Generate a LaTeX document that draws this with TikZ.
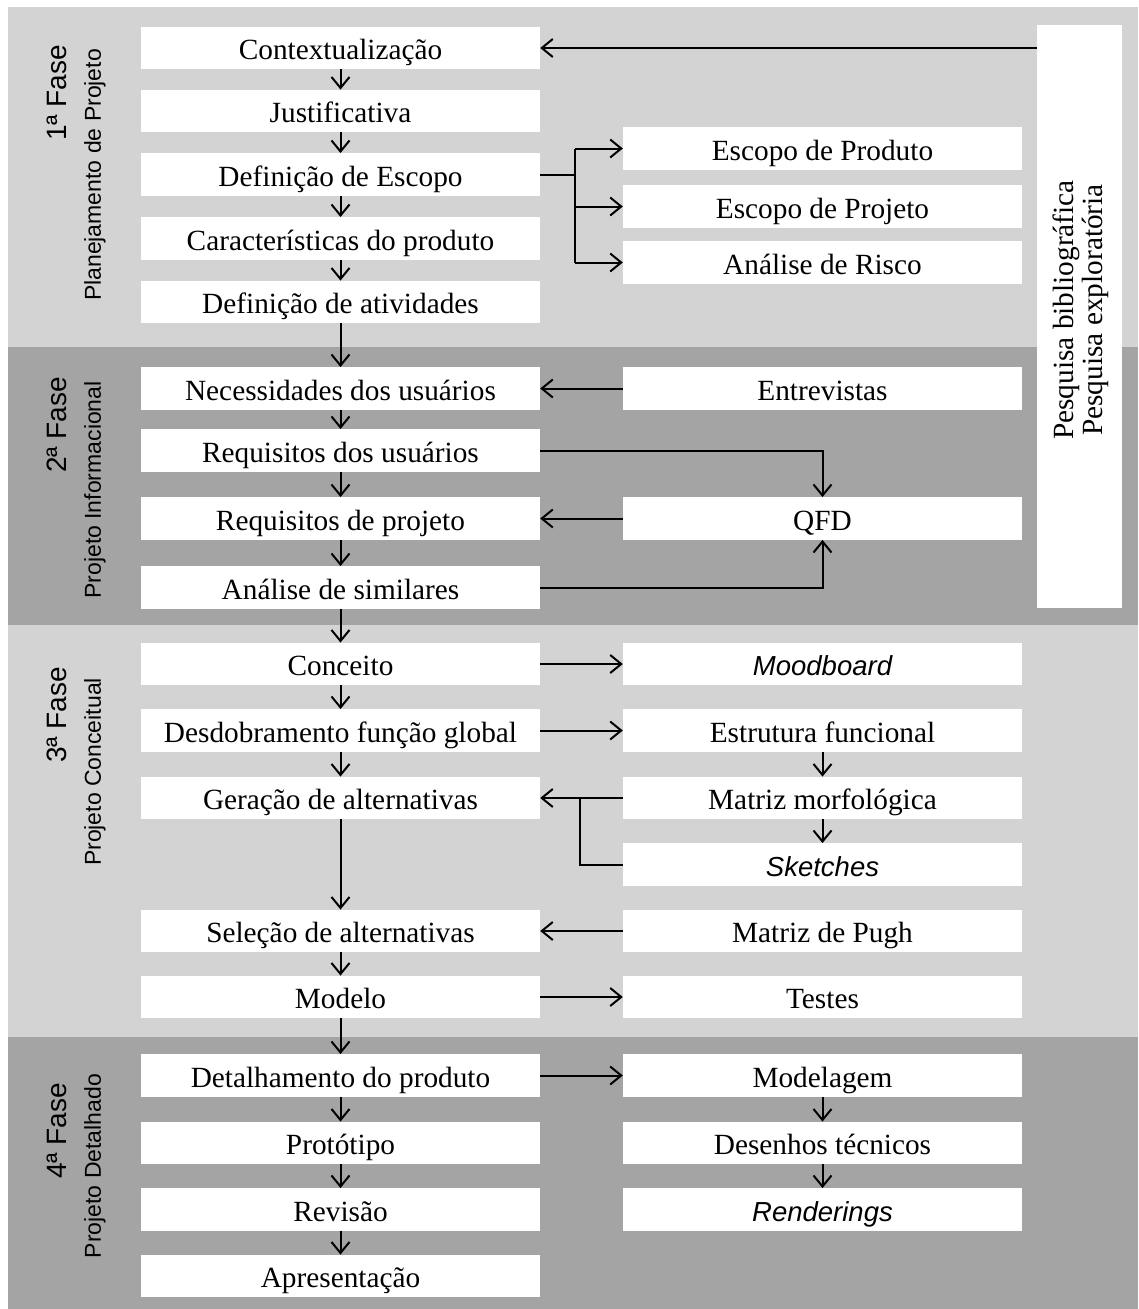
\documentclass[tikz,border=0pt]{standalone}
\usepackage{fontspec}
\setmainfont{Liberation Serif}
\newfontfamily\arialfont{Liberation Sans}
\usetikzlibrary{arrows.meta}

\definecolor{bandlight}{gray}{0.827}
\definecolor{banddark}{gray}{0.643}

\tikzset{
  every picture/.style={x=1pt,y=-1pt},
  txt/.style={font=\fontsize{29.3}{29}\selectfont},
  itxt/.style={font=\arialfont\itshape\fontsize{27.5}{30}\selectfont},
  stepbox/.style={fill=white, minimum width=399, minimum height=42.5, inner sep=0,
                  text height=23, text depth=0, txt},
  arr/.style={-{Straight Barb[length=11,width=18]}, line width=2},
  conn/.style={line width=2},
  phasenum/.style={rotate=90, font=\arialfont\fontsize{28}{32}\selectfont},
  phasename/.style={rotate=90, font=\arialfont\fontsize{23}{27}\selectfont},
}

\begin{document}
\begin{tikzpicture}
% page and phase bands
\fill[white] (0,0) rectangle (1138,1309);
\useasboundingbox (0,0) rectangle (1138,1309);
\fill[bandlight] (8,7) rectangle (1138,347);
\fill[banddark]  (8,347) rectangle (1138,625);
\fill[bandlight] (8,625) rectangle (1138,1037);
\fill[banddark]  (8,1037) rectangle (1138,1309);

% phase labels
\node[phasenum]  (f1) at (57,93)   {1ª Fase};
\node[phasename] (n1) at (95,175)  {Planejamento de Projeto};
\node[phasenum]  (f2) at (57,425)  {2ª Fase};
\node[phasename] (n2) at (95,490)  {Projeto Informacional};
\node[phasenum]  (f3) at (57,715)  {3ª Fase};
\node[phasename] (n3) at (95,772)  {Projeto Conceitual};
\node[phasenum]  (f4) at (57,1131) {4ª Fase};
\node[phasename] (n4) at (95,1166) {Projeto Detalhado};

% research box
\node[fill=white, minimum width=85, minimum height=583, inner sep=0] (pesq) at (1079.5,316.5) {};
\node[rotate=90, txt, align=center] (pesqtxt) at (1081,310) {Pesquisa bibliográfica\\Pesquisa exploratória};

% main column
\node[stepbox] (a1) at (340.5,48)    {Contextualização};
\node[stepbox] (a2) at (340.5,111)   {Justificativa};
\node[stepbox] (a3) at (340.5,174.5) {Definição de Escopo};
\node[stepbox] (a4) at (340.5,238.5) {Características do produto};
\node[stepbox] (a5) at (340.5,302)   {Definição de atividades};

\node[stepbox] (b1) at (340.5,388.5) {Necessidades dos usuários};
\node[stepbox] (b2) at (340.5,450.5) {Requisitos dos usuários};
\node[stepbox] (b3) at (340.5,518.5) {Requisitos de projeto};
\node[stepbox] (b4) at (340.5,587.5) {Análise de similares};

\node[stepbox] (c1) at (340.5,664)   {Conceito};
\node[stepbox] (c2) at (340.5,730.5) {Desdobramento função global};
\node[stepbox] (c3) at (340.5,798)   {Geração de alternativas};
\node[stepbox] (c4) at (340.5,931)   {Seleção de alternativas};
\node[stepbox] (c5) at (340.5,997)   {Modelo};

\node[stepbox] (d1) at (340.5,1075.5) {Detalhamento do produto};
\node[stepbox] (d2) at (340.5,1143)   {Protótipo};
\node[stepbox] (d3) at (340.5,1209.5) {Revisão};
\node[stepbox] (d4) at (340.5,1276)   {Apresentação};

% side column
\node[stepbox] (r1) at (822.5,148.5) {Escopo de Produto};
\node[stepbox] (r2) at (822.5,206.5) {Escopo de Projeto};
\node[stepbox] (r3) at (822.5,262.5) {Análise de Risco};

\node[stepbox] (s1) at (822.5,388.5) {Entrevistas};
\node[stepbox] (s2) at (822.5,518.5) {QFD};

\node[stepbox, itxt] (t1) at (822.5,664)   {Moodboard};
\node[stepbox] (t2) at (822.5,730.5) {Estrutura funcional};
\node[stepbox] (t3) at (822.5,798)   {Matriz morfológica};
\node[stepbox, itxt] (t4) at (822.5,864.5) {Sketches};
\node[stepbox] (t5) at (822.5,931)   {Matriz de Pugh};
\node[stepbox] (t6) at (822.5,997)   {Testes};

\node[stepbox] (u1) at (822.5,1075.5) {Modelagem};
\node[stepbox] (u2) at (822.5,1143)   {Desenhos técnicos};
\node[stepbox, itxt] (u3) at (822.5,1209.5) {Renderings};

% junction points
\coordinate (jx1) at (575,0);
\coordinate (jx2) at (580,0);

% main flow
\foreach \p/\q in {a1/a2,a2/a3,a3/a4,a4/a5,a5/b1,b1/b2,b2/b3,b3/b4,b4/c1,c1/c2,c2/c3,c3/c4,c4/c5,c5/d1,d1/d2,d2/d3,d3/d4}
  \draw[arr] (\p.south) -- (\q.north);

% research feeds the context
\draw[arr] (pesq.west |- a1.east) -- (a1.east);

% scope split
\draw[conn] (a3.east) -- (jx1 |- a3.east);
\draw[conn] (jx1 |- r1.west) -- (jx1 |- r3.west);
\draw[arr] (jx1 |- r1.west) -- (r1.west);
\draw[arr] (jx1 |- r2.west) -- (r2.west);
\draw[arr] (jx1 |- r3.west) -- (r3.west);

% informational phase
\draw[arr] (s1.west) -- (b1.east);
\draw[arr] (b2.east) -| (s2.north);
\draw[arr] (s2.west) -- (b3.east);
\draw[arr] (b4.east) -| (s2.south);

% conceptual phase
\draw[arr] (c1.east) -- (t1.west);
\draw[arr] (c2.east) -- (t2.west);
\draw[arr] (t2.south) -- (t3.north);
\draw[arr] (t3.south) -- (t4.north);
\draw[arr] (t3.west) -- (c3.east);
\draw[conn] (t4.west) -| (jx2 |- t3.west);
\draw[arr] (t5.west) -- (c4.east);
\draw[arr] (c5.east) -- (t6.west);

% detailed phase
\draw[arr] (d1.east) -- (u1.west);
\draw[arr] (u1.south) -- (u2.north);
\draw[arr] (u2.south) -- (u3.north);
\end{tikzpicture}
\end{document}
